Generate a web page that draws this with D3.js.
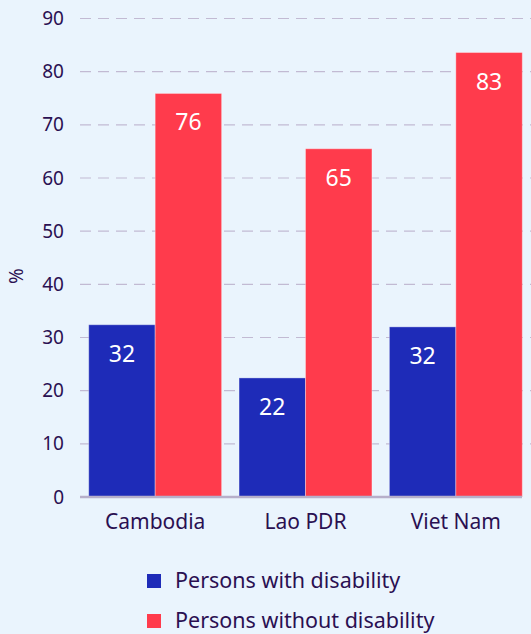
<!DOCTYPE html>
<html>
<head>
<meta charset="utf-8">
<script src="https://cdn.jsdelivr.net/npm/d3@7"></script>
<style>
  html, body { margin: 0; padding: 0; background: #eaf4fd; }
  svg { display: block; font-family: "Noto Sans", "Open Sans", sans-serif; }
</style>
</head>
<body>
<svg></svg>
<script>
// データ
var countries = ["Cambodia", "Lao PDR", "Viet Nam"];
var withDisability = [32.4, 22.4, 32.0];
var withoutDisability = [75.9, 65.5, 83.6];
var labelsWith = ["32", "22", "32"];
var labelsWithout = ["76", "65", "83"];
var seriesNames = ["Persons with disability", "Persons without disability"];
var yTicks = [0, 10, 20, 30, 40, 50, 60, 70, 80, 90];

var width = 531;
var height = 634;
var plotLeft = 80, plotRight = 531, plotTop = 18.5, plotBottom = 497;
var colors = ["#1e2bb8", "#ff3b4c"];
var textColor = "#2a1052";

var svg = d3.select("svg").attr("width", width).attr("height", height);

var x = d3.scaleBand()
    .domain(countries)
    .range([plotLeft, plotRight])
    .paddingInner(0.116)
    .paddingOuter(0.058);

var x1 = d3.scaleBand()
    .domain([0, 1])
    .range([0, x.bandwidth()]);

var y = d3.scaleLinear()
    .domain([0, 90])
    .range([plotBottom, plotTop]);

// グリッド線
svg.append("g")
    .selectAll("line")
    .data(yTicks.filter(function(d) { return d > 0; }))
    .enter()
    .append("line")
    .attr("x1", plotLeft)
    .attr("x2", width)
    .attr("y1", function(d) { return y(d); })
    .attr("y2", function(d) { return y(d); })
    .attr("stroke", "#c2bad3")
    .attr("stroke-width", 1.2)
    .attr("stroke-dasharray", "11,7");

// y軸ラベル
var yAxis = svg.append("g")
    .attr("transform", "translate(" + 64 + ",0)")
    .call(d3.axisLeft(y).tickValues(yTicks).tickSize(0).tickPadding(0));
yAxis.select(".domain").remove();
yAxis.selectAll("text")
    .attr("fill", textColor)
    .style("font-size", "19px")
    .style("font-family", "'Noto Sans', sans-serif");

svg.append("text")
    .attr("transform", "translate(23," + 276 + ") rotate(-90)")
    .attr("text-anchor", "middle")
    .attr("fill", textColor)
    .style("font-size", "19px")
    .text("%");

// バー
var groups = svg.append("g")
    .selectAll("g")
    .data(countries)
    .enter()
    .append("g")
    .attr("transform", function(d) { return "translate(" + x(d) + ",0)"; });

var bars = groups.selectAll("rect")
    .data(function(d, i) {
        return [
            {s: 0, v: withDisability[i], label: labelsWith[i]},
            {s: 1, v: withoutDisability[i], label: labelsWithout[i]}
        ];
    })
    .enter();

bars.append("rect")
    .attr("x", function(d) { return x1(d.s); })
    .attr("y", function(d) { return y(d.v); })
    .attr("width", x1.bandwidth())
    .attr("height", function(d) { return plotBottom - y(d.v); })
    .attr("fill", function(d) { return colors[d.s]; })
    .attr("stroke", "rgba(255,255,255,0.35)")
    .attr("stroke-width", 1);

bars.append("text")
    .attr("x", function(d) { return x1(d.s) + x1.bandwidth() / 2; })
    .attr("y", function(d) { return y(d.v) + 37; })
    .attr("text-anchor", "middle")
    .attr("fill", "#ffffff")
    .style("font-size", "23px")
    .text(function(d) { return d.label; });

// x軸
svg.append("line")
    .attr("x1", plotLeft)
    .attr("x2", 522)
    .attr("y1", plotBottom)
    .attr("y2", plotBottom)
    .attr("stroke", "#b7afca")
    .attr("stroke-width", 2.5);

svg.append("g")
    .selectAll("text")
    .data(countries)
    .enter()
    .append("text")
    .attr("x", function(d) { return x(d) + x.bandwidth() / 2; })
    .attr("y", 529)
    .attr("text-anchor", "middle")
    .attr("fill", textColor)
    .style("font-size", "21px")
    .text(function(d) { return d; });

// 凡例
var legend = svg.append("g")
    .selectAll("g")
    .data(seriesNames)
    .enter()
    .append("g")
    .attr("transform", function(d, i) { return "translate(147," + (574 + i * 40) + ")"; });

legend.append("rect")
    .attr("width", 14)
    .attr("height", 14)
    .attr("fill", function(d, i) { return colors[i]; });

legend.append("text")
    .attr("x", 28)
    .attr("y", 14)
    .attr("fill", textColor)
    .style("font-size", "21.5px")
    .text(function(d) { return d; });
</script>
</body>
</html>
